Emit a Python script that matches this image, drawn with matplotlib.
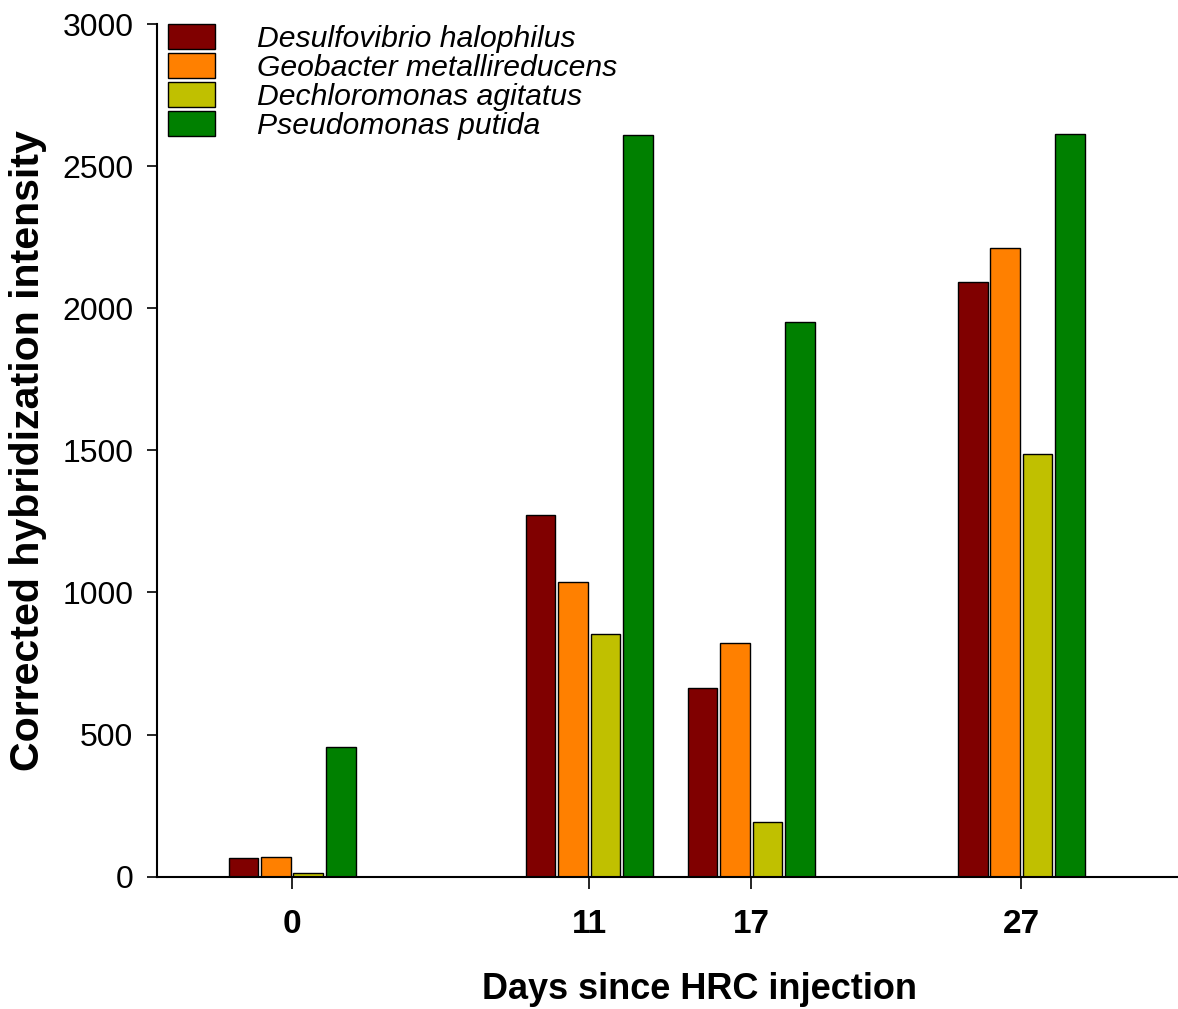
import numpy as np
import matplotlib
matplotlib.use("Agg")
import matplotlib.pyplot as plt

plt.rcParams["font.family"] = ["Liberation Sans", "DejaVu Sans"]

days = [0, 11, 17, 27]
species = ["Desulfovibrio halophilus", "Geobacter metallireducens",
           "Dechloromonas agitatus", "Pseudomonas putida"]
desulfovibrio = [65, 1274, 665, 2091]
geobacter = [68, 1036, 821, 2212]
dechloromonas = [12, 853, 192, 1488]
pseudomonas = [456, 2609, 1953, 2612]
colors = ["#800000", "#ff8000", "#c0c000", "#008000"]
y_ticks = [0, 500, 1000, 1500, 2000, 2500, 3000]

series = [desulfovibrio, geobacter, dechloromonas, pseudomonas]

fig = plt.figure(figsize=(11.78, 10.09), dpi=100)
ax = fig.add_axes([0.1333, 0.1311, 0.8667, 0.8451])

x = np.array(days, dtype=float)
slot = 1.2
width = 1.1
for i, (vals, name, c) in enumerate(zip(series, species, colors)):
    offset = (i - 1.5) * slot
    ax.bar(x + offset, vals, width=width, color=c, edgecolor="black",
           linewidth=1.0, label=name, zorder=2)

ax.set_xlim(-5.0, 32.8)
ax.set_ylim(0, 3000)
ax.set_yticks(y_ticks)
ax.set_xticks(days)
ax.set_xticklabels([str(d) for d in days], fontweight="bold", fontsize=24)
ax.tick_params(axis="y", labelsize=23, length=7, width=1.2, pad=10, direction="out")
ax.tick_params(axis="x", length=8.6, width=1.2, pad=15, direction="out")

for side in ["top", "right"]:
    ax.spines[side].set_visible(False)
ax.spines["left"].set_linewidth(1.5)
ax.spines["bottom"].set_linewidth(1.5)

ax.set_ylabel("Corrected hybridization intensity", fontsize=29.6, fontweight="bold")
ax.set_xlabel("Days since HRC injection", fontsize=26, fontweight="bold")
ax.yaxis.set_label_coords(-0.108, 0.5)
ax.xaxis.set_label_coords(0.531, -0.112)

leg = ax.legend(loc="upper left", bbox_to_anchor=(0.0108, 1.0), frameon=False,
                prop={"style": "italic", "size": 21.7}, handlelength=1.55,
                handleheight=0.9, handletextpad=1.4, labelspacing=0.0,
                borderpad=0, borderaxespad=0)

fig.savefig("out.png", dpi=100)
